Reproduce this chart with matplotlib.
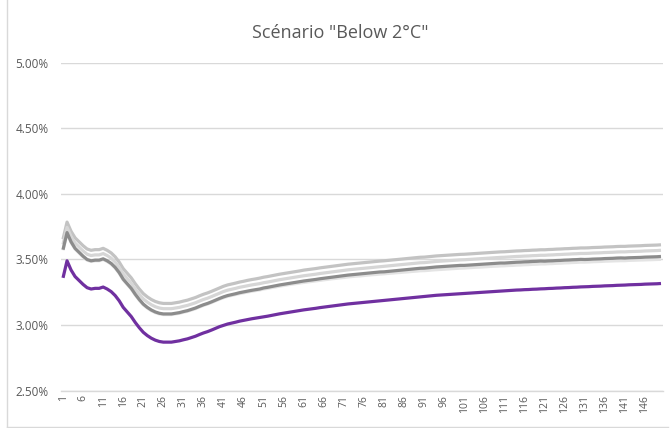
import matplotlib
matplotlib.use("Agg")
import matplotlib.pyplot as plt
from matplotlib.ticker import FuncFormatter
from matplotlib.lines import Line2D

# Rates in percent, one value per year (1..150)
periods = list(range(1, 151))

rate_main = [
    3.360, 3.490, 3.420, 3.370, 3.340, 3.310, 3.285, 3.275, 3.280, 3.280,
    3.290, 3.275, 3.255, 3.225, 3.185, 3.135, 3.100, 3.065, 3.020, 2.980,
    2.945, 2.920, 2.900, 2.885, 2.875, 2.870, 2.870, 2.870, 2.875, 2.880,
    2.888, 2.895, 2.905, 2.915, 2.928, 2.940, 2.950, 2.962, 2.975, 2.988,
    2.998, 3.008, 3.015, 3.022, 3.030, 3.036, 3.042, 3.048, 3.053, 3.058,
    3.063, 3.068, 3.074, 3.080, 3.086, 3.091, 3.096, 3.101, 3.106, 3.111,
    3.116, 3.120, 3.124, 3.128, 3.133, 3.137, 3.141, 3.145, 3.149, 3.153,
    3.157, 3.161, 3.164, 3.167, 3.170, 3.173, 3.176, 3.179, 3.182, 3.185,
    3.188, 3.191, 3.194, 3.197, 3.200, 3.203, 3.206, 3.209, 3.212, 3.215,
    3.218, 3.221, 3.224, 3.227, 3.229, 3.231, 3.233, 3.235, 3.237, 3.239,
    3.241, 3.243, 3.245, 3.247, 3.249, 3.251, 3.253, 3.255, 3.257, 3.259,
    3.261, 3.263, 3.265, 3.267, 3.268, 3.270, 3.271, 3.273, 3.274, 3.276,
    3.277, 3.279, 3.280, 3.282, 3.283, 3.285, 3.286, 3.288, 3.289, 3.291,
    3.292, 3.293, 3.295, 3.296, 3.297, 3.299, 3.300, 3.301, 3.303, 3.304,
    3.305, 3.307, 3.308, 3.309, 3.310, 3.312, 3.313, 3.314, 3.315, 3.317,
]

rate_high = [
    3.655, 3.785, 3.715, 3.665, 3.635, 3.605, 3.580, 3.570, 3.575, 3.575,
    3.585, 3.570, 3.550, 3.520, 3.480, 3.430, 3.395, 3.360, 3.315, 3.275,
    3.240, 3.215, 3.195, 3.180, 3.170, 3.165, 3.165, 3.165, 3.170, 3.175,
    3.183, 3.190, 3.200, 3.210, 3.223, 3.235, 3.245, 3.257, 3.270, 3.283,
    3.296, 3.306, 3.313, 3.320, 3.328, 3.334, 3.341, 3.347, 3.352, 3.358,
    3.365, 3.370, 3.376, 3.382, 3.388, 3.393, 3.398, 3.403, 3.408, 3.413,
    3.419, 3.423, 3.427, 3.431, 3.436, 3.440, 3.444, 3.448, 3.452, 3.456,
    3.460, 3.464, 3.467, 3.470, 3.473, 3.476, 3.479, 3.482, 3.485, 3.488,
    3.490, 3.493, 3.496, 3.499, 3.502, 3.505, 3.508, 3.511, 3.514, 3.517,
    3.518, 3.521, 3.524, 3.527, 3.529, 3.531, 3.533, 3.535, 3.537, 3.539,
    3.540, 3.542, 3.544, 3.546, 3.548, 3.550, 3.552, 3.554, 3.556, 3.558,
    3.559, 3.561, 3.563, 3.565, 3.566, 3.568, 3.569, 3.571, 3.572, 3.574,
    3.574, 3.576, 3.577, 3.579, 3.580, 3.582, 3.583, 3.585, 3.586, 3.588,
    3.588, 3.589, 3.591, 3.592, 3.593, 3.595, 3.596, 3.597, 3.599, 3.600,
    3.600, 3.602, 3.603, 3.604, 3.605, 3.607, 3.608, 3.609, 3.610, 3.612,
]

rate_mid = [
    3.615, 3.745, 3.675, 3.625, 3.595, 3.565, 3.540, 3.530, 3.535, 3.535,
    3.545, 3.530, 3.510, 3.480, 3.440, 3.390, 3.355, 3.320, 3.275, 3.235,
    3.200, 3.175, 3.155, 3.140, 3.130, 3.125, 3.125, 3.125, 3.130, 3.135,
    3.143, 3.150, 3.160, 3.170, 3.183, 3.195, 3.205, 3.217, 3.230, 3.243,
    3.256, 3.266, 3.273, 3.280, 3.288, 3.294, 3.300, 3.306, 3.311, 3.316,
    3.323, 3.328, 3.334, 3.340, 3.346, 3.351, 3.356, 3.361, 3.366, 3.371,
    3.376, 3.380, 3.384, 3.388, 3.393, 3.397, 3.401, 3.405, 3.409, 3.413,
    3.417, 3.421, 3.424, 3.427, 3.430, 3.433, 3.436, 3.439, 3.442, 3.445,
    3.448, 3.451, 3.454, 3.457, 3.460, 3.463, 3.466, 3.469, 3.472, 3.475,
    3.476, 3.479, 3.482, 3.485, 3.487, 3.489, 3.491, 3.493, 3.495, 3.497,
    3.498, 3.500, 3.502, 3.504, 3.506, 3.508, 3.510, 3.512, 3.514, 3.516,
    3.517, 3.519, 3.521, 3.523, 3.524, 3.526, 3.527, 3.529, 3.530, 3.532,
    3.532, 3.534, 3.535, 3.537, 3.538, 3.540, 3.541, 3.543, 3.544, 3.546,
    3.546, 3.547, 3.549, 3.550, 3.551, 3.553, 3.554, 3.555, 3.557, 3.558,
    3.558, 3.560, 3.561, 3.562, 3.563, 3.565, 3.566, 3.567, 3.568, 3.570,
]

rate_dark = [
    3.575, 3.705, 3.635, 3.585, 3.555, 3.525, 3.500, 3.490, 3.495, 3.495,
    3.505, 3.490, 3.470, 3.440, 3.400, 3.350, 3.315, 3.280, 3.235, 3.195,
    3.160, 3.135, 3.115, 3.100, 3.090, 3.085, 3.085, 3.085, 3.090, 3.095,
    3.103, 3.110, 3.120, 3.130, 3.143, 3.155, 3.165, 3.177, 3.190, 3.203,
    3.215, 3.225, 3.232, 3.239, 3.247, 3.253, 3.259, 3.265, 3.270, 3.275,
    3.283, 3.288, 3.294, 3.300, 3.306, 3.311, 3.316, 3.321, 3.326, 3.331,
    3.336, 3.340, 3.344, 3.348, 3.353, 3.357, 3.361, 3.365, 3.369, 3.373,
    3.377, 3.381, 3.384, 3.387, 3.390, 3.393, 3.396, 3.399, 3.402, 3.405,
    3.406, 3.409, 3.412, 3.415, 3.418, 3.421, 3.424, 3.427, 3.430, 3.433,
    3.434, 3.437, 3.440, 3.443, 3.445, 3.447, 3.449, 3.451, 3.453, 3.455,
    3.455, 3.457, 3.459, 3.461, 3.463, 3.465, 3.467, 3.469, 3.471, 3.473,
    3.473, 3.475, 3.477, 3.479, 3.480, 3.482, 3.483, 3.485, 3.486, 3.488,
    3.487, 3.489, 3.490, 3.492, 3.493, 3.495, 3.496, 3.498, 3.499, 3.501,
    3.500, 3.501, 3.503, 3.504, 3.505, 3.507, 3.508, 3.509, 3.511, 3.512,
    3.511, 3.513, 3.514, 3.515, 3.516, 3.518, 3.519, 3.520, 3.521, 3.523,
]

rate_low = [
    3.570, 3.700, 3.630, 3.580, 3.550, 3.520, 3.495, 3.485, 3.490, 3.490,
    3.500, 3.485, 3.465, 3.435, 3.395, 3.345, 3.310, 3.275, 3.230, 3.190,
    3.155, 3.130, 3.110, 3.095, 3.085, 3.080, 3.080, 3.080, 3.085, 3.090,
    3.098, 3.105, 3.115, 3.125, 3.138, 3.150, 3.160, 3.172, 3.185, 3.198,
    3.209, 3.219, 3.226, 3.233, 3.240, 3.246, 3.252, 3.258, 3.263, 3.268,
    3.275, 3.280, 3.286, 3.291, 3.297, 3.302, 3.307, 3.312, 3.316, 3.321,
    3.325, 3.329, 3.333, 3.337, 3.341, 3.345, 3.349, 3.353, 3.356, 3.360,
    3.363, 3.367, 3.370, 3.373, 3.375, 3.378, 3.381, 3.384, 3.386, 3.389,
    3.391, 3.394, 3.396, 3.399, 3.401, 3.404, 3.406, 3.409, 3.411, 3.414,
    3.415, 3.417, 3.420, 3.422, 3.424, 3.426, 3.428, 3.430, 3.432, 3.434,
    3.435, 3.437, 3.439, 3.441, 3.442, 3.444, 3.446, 3.448, 3.449, 3.451,
    3.452, 3.454, 3.455, 3.457, 3.458, 3.460, 3.461, 3.463, 3.464, 3.466,
    3.466, 3.468, 3.469, 3.471, 3.472, 3.474, 3.475, 3.477, 3.478, 3.480,
    3.480, 3.481, 3.483, 3.484, 3.485, 3.487, 3.488, 3.489, 3.490, 3.491,
    3.491, 3.493, 3.494, 3.495, 3.496, 3.497, 3.498, 3.499, 3.500, 3.501,
]

y_ticks = [2.50, 3.00, 3.50, 4.00, 4.50, 5.00]
x_tick_labels = periods[::5]

plt.rcParams["font.family"] = ["Open Sans", "DejaVu Sans"]
TEXT = "#595959"
GRID = "#d9d9d9"

fig = plt.figure(figsize=(6.72, 4.28), dpi=100)
ax = fig.add_axes([0.0908, 0.0872, 0.8958, 0.7663])

lw = 2.3
ax.plot(periods, rate_low, color="#e4e4e4", lw=lw, solid_capstyle="butt", zorder=2)
ax.plot(periods, rate_high, color="#c3c3c3", lw=lw, solid_capstyle="butt", zorder=3)
ax.plot(periods, rate_mid, color="#d6d6d6", lw=lw, solid_capstyle="butt", zorder=4)
ax.plot(periods, rate_dark, color="#8c8c8c", lw=lw, solid_capstyle="butt", zorder=5)
ax.plot(periods, rate_main, color="#7030a0", lw=lw, solid_capstyle="butt", zorder=6)

ax.set_xlim(0.5, 150.5)
ax.set_ylim(y_ticks[0], y_ticks[-1])
ax.set_yticks(y_ticks)
ax.yaxis.set_major_formatter(FuncFormatter(lambda v, p: f"{v:.2f}%"))
ax.set_xticks(x_tick_labels)
ax.set_xticklabels([str(v) for v in x_tick_labels], rotation=90)

ax.grid(axis="y", color=GRID, lw=1.0, zorder=0)
ax.set_axisbelow(True)
for side in ["top", "right", "left"]:
    ax.spines[side].set_visible(False)
ax.spines["bottom"].set_color(GRID)
ax.spines["bottom"].set_linewidth(1.0)
ax.tick_params(axis="both", length=0, colors=TEXT)
ax.tick_params(axis="y", labelsize=8.5, pad=9)
ax.tick_params(axis="x", labelsize=7.5, pad=3)

fig.text(0.506, 0.922, 'Scénario "Below 2°C"', ha="center", va="center",
         fontsize=13, color=TEXT)

# Chart frame (left and bottom edges)
fig.add_artist(Line2D([6.5 / 672, 6.5 / 672], [0, 1], transform=fig.transFigure,
                      color=GRID, lw=1.0))
fig.add_artist(Line2D([6.5 / 672, 668 / 672], [1.5 / 428, 1.5 / 428],
                      transform=fig.transFigure, color=GRID, lw=1.0))

fig.savefig("out.png", dpi=100, facecolor="white")
